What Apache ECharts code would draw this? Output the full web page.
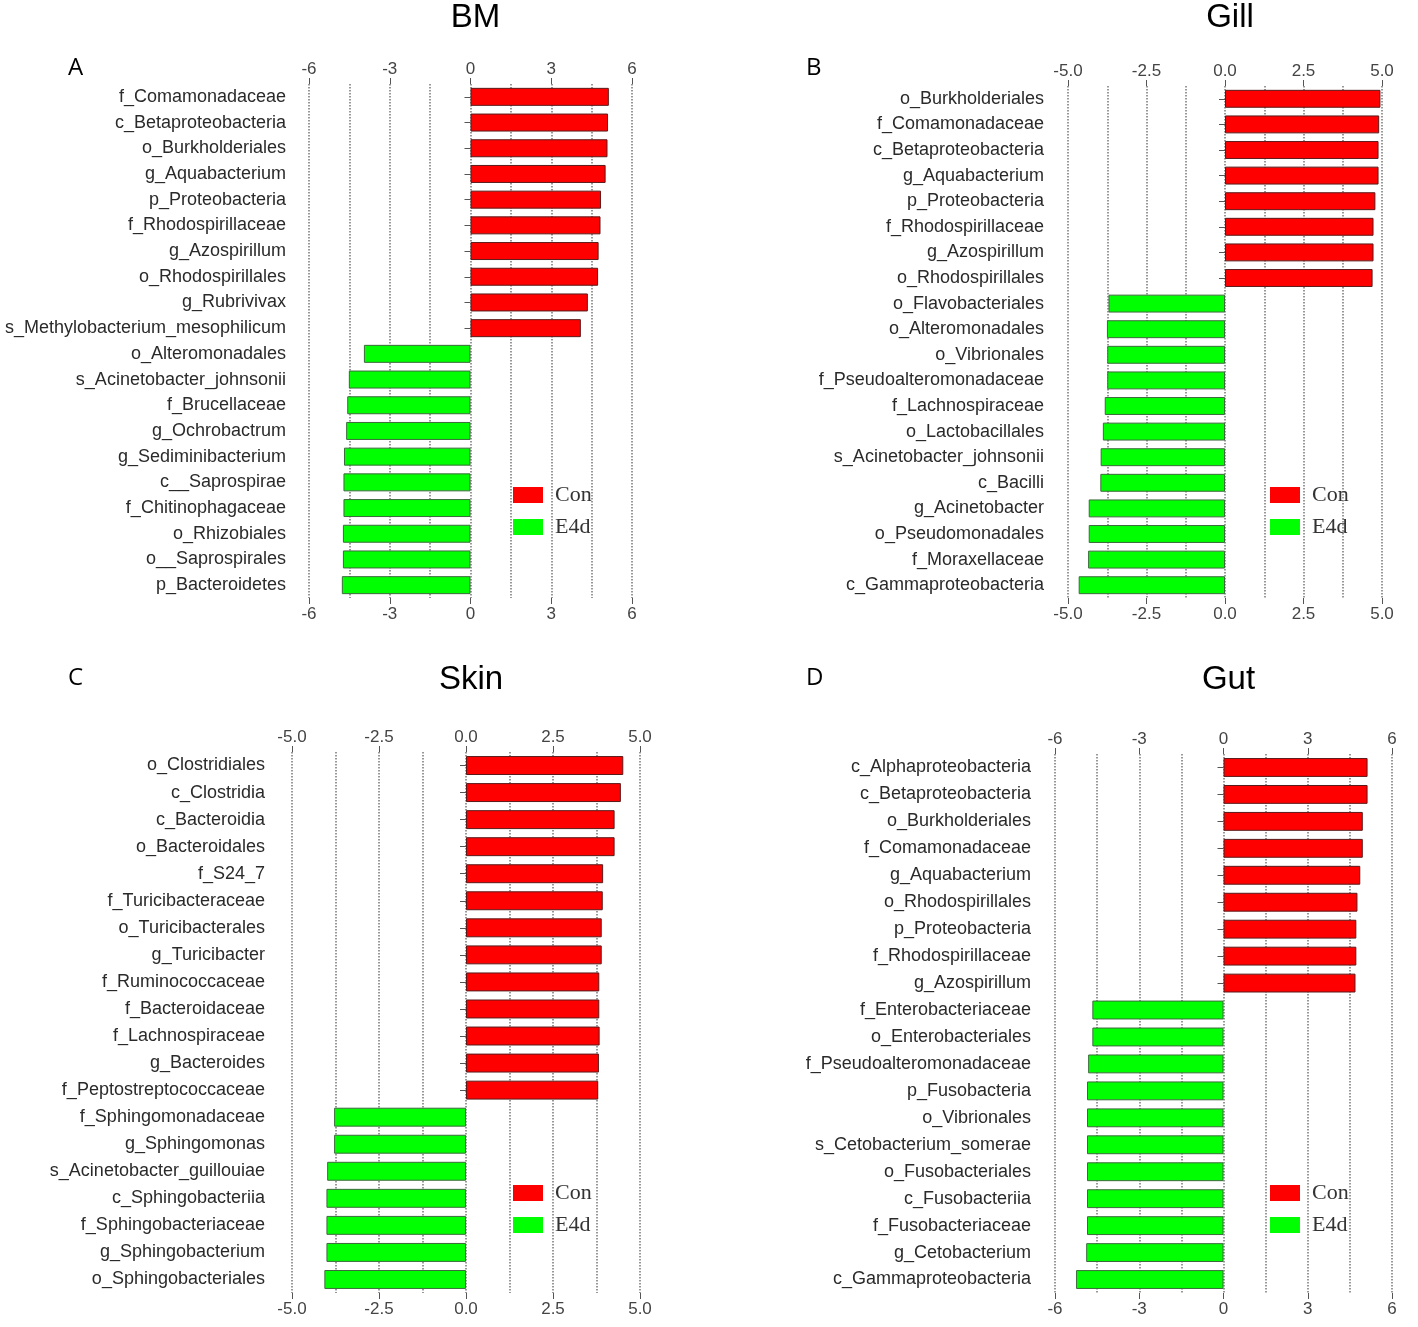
<!DOCTYPE html>
<html lang="en">
<head>
    <meta charset="UTF-8">
    <title>LEfSe LDA</title>
    <script src="https://cdn.jsdelivr.net/npm/echarts@6/dist/echarts.min.js"></script>
    <style>
        html, body {margin: 0; padding: 0; background: #fff;}
        #main {width: 1418px; height: 1327px;}
    </style>
</head>
<body>
<div id="main"></div>
<script type="text/javascript">
    // BM
    var bmNames = ['f_Comamonadaceae', 'c_Betaproteobacteria', 'o_Burkholderiales', 'g_Aquabacterium',
        'p_Proteobacteria', 'f_Rhodospirillaceae', 'g_Azospirillum', 'o_Rhodospirillales', 'g_Rubrivivax',
        's_Methylobacterium_mesophilicum', 'o_Alteromonadales', 's_Acinetobacter_johnsonii', 'f_Brucellaceae',
        'g_Ochrobactrum', 'g_Sediminibacterium', 'c__Saprospirae', 'f_Chitinophagaceae', 'o_Rhizobiales',
        'o__Saprospirales', 'p_Bacteroidetes'];
    var bmLda = [5.14, 5.11, 5.09, 5.02, 4.85, 4.83, 4.76, 4.74, 4.36, 4.10,
        -3.96, -4.52, -4.58, -4.62, -4.70, -4.72, -4.72, -4.74, -4.74, -4.78];

    // Gill
    var gillNames = ['o_Burkholderiales', 'f_Comamonadaceae', 'c_Betaproteobacteria', 'g_Aquabacterium',
        'p_Proteobacteria', 'f_Rhodospirillaceae', 'g_Azospirillum', 'o_Rhodospirillales', 'o_Flavobacteriales',
        'o_Alteromonadales', 'o_Vibrionales', 'f_Pseudoalteromonadaceae', 'f_Lachnospiraceae', 'o_Lactobacillales',
        's_Acinetobacter_johnsonii', 'c_Bacilli', 'g_Acinetobacter', 'o_Pseudomonadales', 'f_Moraxellaceae',
        'c_Gammaproteobacteria'];
    var gillLda = [4.95, 4.91, 4.89, 4.89, 4.79, 4.73, 4.73, 4.70,
        -3.71, -3.76, -3.75, -3.75, -3.83, -3.89, -3.96, -3.97, -4.34, -4.34, -4.36, -4.66];

    // Skin
    var skinNames = ['o_Clostridiales', 'c_Clostridia', 'c_Bacteroidia', 'o_Bacteroidales', 'f_S24_7',
        'f_Turicibacteraceae', 'o_Turicibacterales', 'g_Turicibacter', 'f_Ruminococcaceae', 'f_Bacteroidaceae',
        'f_Lachnospiraceae', 'g_Bacteroides', 'f_Peptostreptococcaceae', 'f_Sphingomonadaceae', 'g_Sphingomonas',
        's_Acinetobacter_guillouiae', 'c_Sphingobacteriia', 'f_Sphingobacteriaceae', 'g_Sphingobacterium',
        'o_Sphingobacteriales'];
    var skinLda = [4.52, 4.45, 4.27, 4.27, 3.94, 3.93, 3.90, 3.90, 3.83, 3.83, 3.84, 3.82, 3.80,
        -3.79, -3.79, -3.99, -4.01, -4.01, -4.01, -4.07];

    // Gut
    var gutNames = ['c_Alphaproteobacteria', 'c_Betaproteobacteria', 'o_Burkholderiales', 'f_Comamonadaceae',
        'g_Aquabacterium', 'o_Rhodospirillales', 'p_Proteobacteria', 'f_Rhodospirillaceae', 'g_Azospirillum',
        'f_Enterobacteriaceae', 'o_Enterobacteriales', 'f_Pseudoalteromonadaceae', 'p_Fusobacteria',
        'o_Vibrionales', 's_Cetobacterium_somerae', 'o_Fusobacteriales', 'c_Fusobacteriia',
        'f_Fusobacteriaceae', 'g_Cetobacterium', 'c_Gammaproteobacteria'];
    var gutLda = [5.13, 5.13, 4.96, 4.96, 4.87, 4.77, 4.73, 4.73, 4.70,
        -4.67, -4.67, -4.82, -4.86, -4.86, -4.86, -4.86, -4.86, -4.86, -4.89, -5.25];

    var groups = ['Con', 'E4d'];

    var panels = [
        {title: 'BM', letter: 'A', names: bmNames, lda: bmLda, lim: 6, step: 3,
            grid: {left: 309, top: 84, width: 323, height: 514}, yOff: 15,
            titleTop: -4, letterPos: [63, 51], legend: [513, 484]},
        {title: 'Gill', letter: 'B', names: gillNames, lda: gillLda, lim: 5, step: 2.5,
            grid: {left: 1068, top: 86, width: 314, height: 512}, yOff: 16,
            titleTop: -4, letterPos: [801, 51], legend: [1270, 484]},
        {title: 'Skin', letter: 'C', names: skinNames, lda: skinLda, lim: 5, step: 2.5,
            grid: {left: 292, top: 752, width: 348, height: 541}, yOff: 19,
            titleTop: 658, letterPos: [63, 661], legend: [513, 1182]},
        {title: 'Gut', letter: 'D', names: gutNames, lda: gutLda, lim: 6, step: 3,
            grid: {left: 1055, top: 754, width: 337, height: 539}, yOff: 16,
            titleTop: 658, letterPos: [801, 661], legend: [1270, 1182]}
    ];

    var font = 'Liberation Sans, Arial, sans-serif';
    var option = {
        animation: false,
        backgroundColor: '#fff',
        title: [], legend: [], grid: [], xAxis: [], yAxis: [], series: []
    };

    panels.forEach(function (p, i) {
        var g = p.grid;
        option.grid.push({left: g.left, top: g.top, width: g.width, height: g.height});
        option.title.push({
            text: p.title, left: g.left + g.width / 2, top: p.titleTop, textAlign: 'center',
            textStyle: {fontFamily: font, fontSize: 33, fontWeight: 'normal', color: '#000'}
        });
        option.title.push({
            text: p.letter, left: p.letterPos[0], top: p.letterPos[1],
            textStyle: {fontFamily: 'Open Sans, sans-serif', fontSize: 24, fontWeight: 'normal', color: '#000'}
        });
        option.legend.push({
            data: groups, orient: 'vertical', left: p.legend[0], top: p.legend[1], padding: 0,
            itemWidth: 30, itemHeight: 16, itemGap: 10, icon: 'rect',
            itemStyle: {borderWidth: 0},
            textStyle: {fontFamily: 'Liberation Serif, Times New Roman, serif', fontSize: 22, color: '#333',
                padding: [0, 0, 0, 7]}
        });
        var fmt = function (v) {
            return p.step === 3 ? String(v) : v.toFixed(1);
        };
        var dotted = {show: true, lineStyle: {type: 'dotted', color: '#777', width: 1.5}};
        // top axis carries the dotted grid
        option.xAxis.push({
            type: 'value', gridIndex: i, position: 'top', min: -p.lim, max: p.lim, interval: p.step,
            axisLine: {show: false},
            axisTick: {show: true, length: 6, lineStyle: {color: '#555'}},
            axisLabel: {margin: 6, fontFamily: font, fontSize: 17, color: '#444', formatter: fmt},
            splitLine: dotted,
            minorTick: {show: false, splitNumber: 2},
            minorSplitLine: dotted
        });
        option.xAxis.push({
            type: 'value', gridIndex: i, position: 'bottom', min: -p.lim, max: p.lim, interval: p.step,
            axisLine: {show: false},
            axisTick: {show: true, length: 6, lineStyle: {color: '#555'}},
            axisLabel: {margin: 8, fontFamily: font, fontSize: 17, color: '#444', formatter: fmt},
            splitLine: {show: false}
        });
        option.yAxis.push({
            type: 'category', gridIndex: i, data: p.names, inverse: true, offset: p.yOff,
            axisLine: {show: false},
            axisTick: {show: true, alignWithLabel: true, length: 6, lineStyle: {color: '#555'}},
            axisLabel: {margin: 8, fontFamily: font, fontSize: 18, color: '#2a2a2a'},
            splitLine: {show: false}
        });
        option.series.push({
            name: 'Con', type: 'bar', xAxisIndex: i * 2, yAxisIndex: i, stack: 'p' + i, barWidth: '70%',
            itemStyle: {color: '#ff0000', borderColor: '#5a1a1a', borderWidth: 1},
            data: p.lda.map(function (v) { return v > 0 ? v : '-'; })
        });
        option.series.push({
            name: 'E4d', type: 'bar', xAxisIndex: i * 2, yAxisIndex: i, stack: 'p' + i, barWidth: '70%',
            itemStyle: {color: '#00ff00', borderColor: '#3c6a3c', borderWidth: 1},
            data: p.lda.map(function (v) { return v < 0 ? v : '-'; })
        });
    });

    var myChart = echarts.init(document.getElementById('main'));
    myChart.setOption(option);
</script>
</body>
</html>
